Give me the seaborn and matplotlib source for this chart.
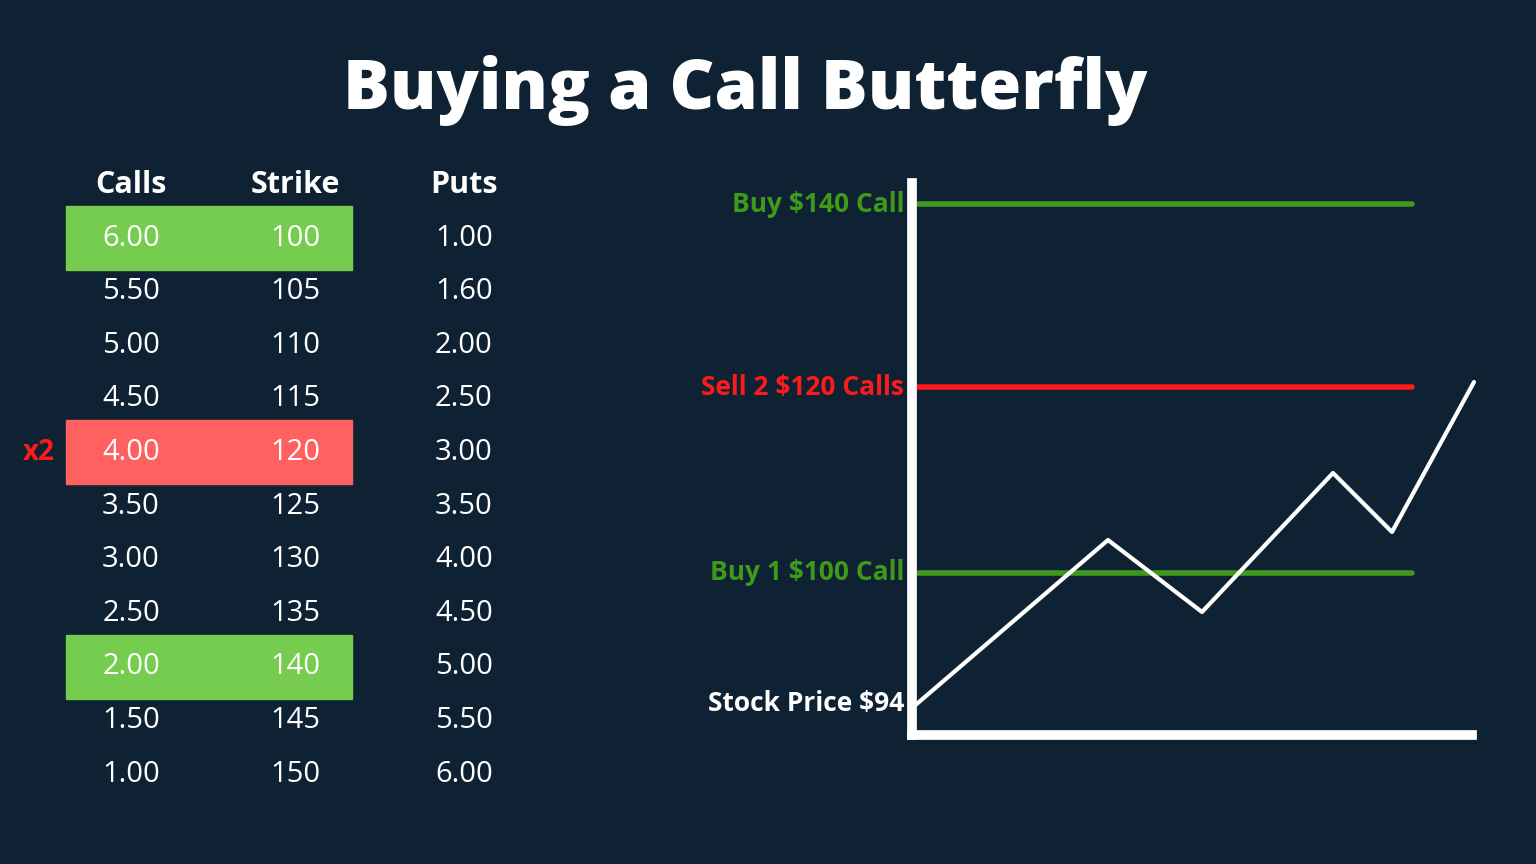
import matplotlib
matplotlib.use("Agg")
import matplotlib.pyplot as plt
import seaborn as sns
import pandas as pd
from matplotlib.patches import Rectangle

sns.set_theme(style="dark")
plt.rcParams['font.family'] = ['Open Sans', 'DejaVu Sans']

BG = "#0f2233"
calls = ["6.00", "5.50", "5.00", "4.50", "4.00", "3.50", "3.00", "2.50", "2.00", "1.50", "1.00"]
strikes = ["100", "105", "110", "115", "120", "125", "130", "135", "140", "145", "150"]
puts = ["1.00", "1.60", "2.00", "2.50", "3.00", "3.50", "4.00", "4.50", "5.00", "5.50", "6.00"]
highlight = {0: "#76cc4f", 4: "#ff6161", 8: "#76cc4f"}

# chart (abstract units)
path_x = [0, 196, 290, 421, 480, 562]
path_y = [27, 195, 123, 262, 203, 353]
levels = [("Buy $140 Call", 531, "#3f9a1b"), ("Sell 2 $120 Calls", 348, "#ff1a1a"),
          ("Buy 1 $100 Call", 162, "#3f9a1b")]
stock_label = ("Stock Price $94", 27)

fig = plt.figure(figsize=(15.36, 8.64), dpi=100, facecolor=BG)
ax = fig.add_axes([0, 0, 1, 1])
ax.set_xlim(0, 1536); ax.set_ylim(864, 0); ax.axis("off")
ax.set_facecolor(BG)

ax.text(745, 90, "Buying a Call Butterfly", color="white", fontsize=50, fontweight="heavy",
        ha="center", va="center")
for x, h in [(131, "Calls"), (295, "Strike"), (464, "Puts")]:
    ax.text(x, 185, h, color="white", fontsize=22, fontweight="bold", ha="center", va="center")
y0, step = 238, 53.6
for i in range(len(calls)):
    y = y0 + i * step
    if i in highlight:
        ax.add_patch(Rectangle((66, y - 32), 286, 64, color=highlight[i], zorder=0))
    ax.text(131, y, calls[i], color="white", fontsize=21, ha="center", va="center")
    ax.text(295, y, strikes[i], color="white", fontsize=21, ha="center", va="center")
    ax.text(464, y, puts[i], color="white", fontsize=21, ha="center", va="center")
ax.text(39, y0 + 4 * step, "x2", color="#ff1a1a", fontsize=20, fontweight="bold",
        ha="center", va="center")

cax = fig.add_axes([912 / 1536, (864 - 735) / 864, 568 / 1536, 552 / 864])
cax.set_xlim(0, 568); cax.set_ylim(0, 552)
cax.set_facecolor("none")
for s in ["top", "right"]:
    cax.spines[s].set_visible(False)
for s in ["left", "bottom"]:
    cax.spines[s].set_color("white"); cax.spines[s].set_linewidth(7)
cax.spines["bottom"].set_bounds(0, 560)
cax.set_xticks([]); cax.set_yticks([])
for lab, yv, col in levels:
    cax.plot([6, 500], [yv, yv], color=col, lw=4)
    cax.text(-8, yv, lab, color=col, fontsize=19, fontweight="bold", ha="right", va="center",
             clip_on=False)
sns.lineplot(data=pd.DataFrame({"x": path_x, "y": path_y}), x="x", y="y", ax=cax,
             color="white", lw=3, clip_on=False)
cax.set_xlabel(""); cax.set_ylabel("")
cax.text(-8, stock_label[1] + 5, stock_label[0], color="white", fontsize=19, fontweight="bold",
         ha="right", va="center", clip_on=False)

fig.savefig("out.png", dpi=100, facecolor=BG)
